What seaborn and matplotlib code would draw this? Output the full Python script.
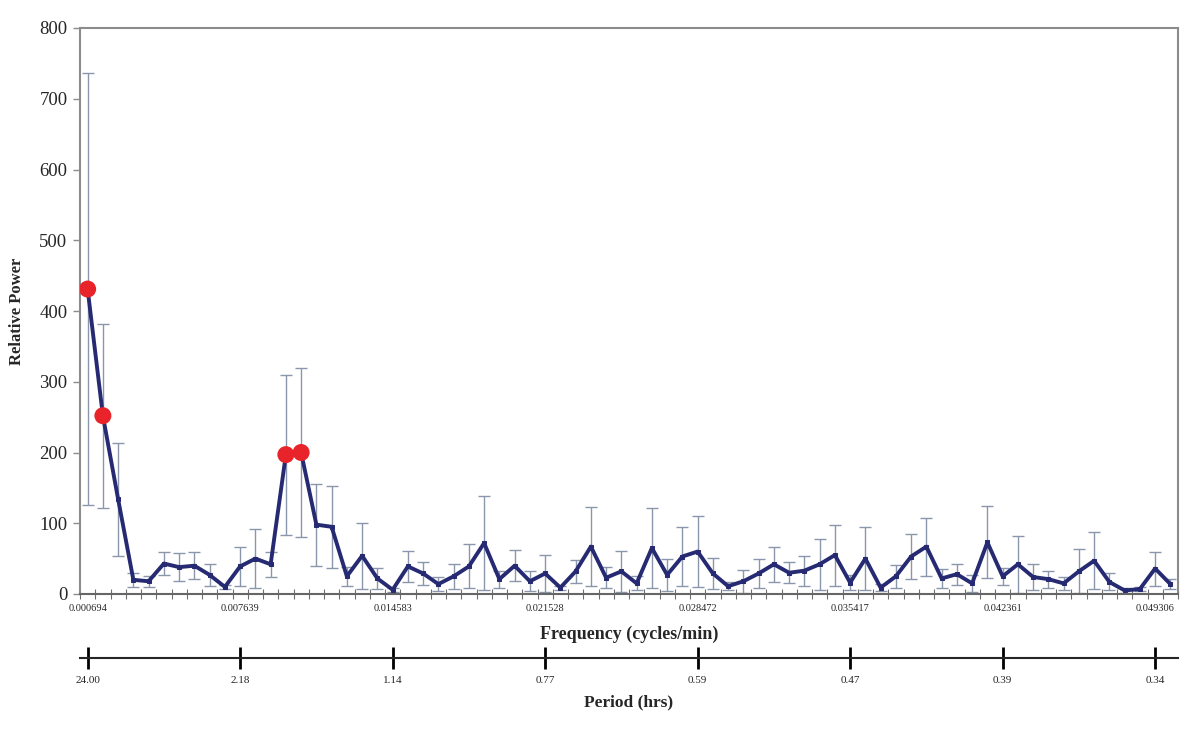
import numpy as np
import matplotlib
matplotlib.use("Agg")
import matplotlib.pyplot as plt
import seaborn as sns

# relative power per frequency bin (72 bins, 1/1440 cycles/min apart)
power = [
    431, 252, 134, 20, 18, 43, 38, 40, 27, 10,
    39, 50, 42, 197, 200, 98, 95, 25, 54, 22,
    6, 39, 29, 14, 25, 39, 72, 21, 40, 18,
    29, 9, 32, 67, 23, 32, 15, 65, 27, 53,
    60, 29, 11, 18, 29, 42, 30, 33, 42, 55,
    16, 50, 9, 25, 53, 67, 22, 28, 15, 73,
    25, 42, 24, 21, 15, 32, 47, 17, 5, 7,
    36, 14,
]
power_err = [
    305, 130, 80, 10, 8, 16, 20, 19, 16, 3,
    27, 42, 18, 113, 119, 58, 58, 13, 47, 15,
    3, 22, 16, 10, 18, 31, 66, 12, 22, 14,
    26, 3, 16, 56, 15, 29, 10, 56, 23, 41,
    50, 22, 6, 16, 20, 25, 15, 21, 36, 43,
    11, 45, 5, 16, 32, 41, 13, 15, 12, 51,
    12, 40, 18, 12, 9, 31, 40, 12, 3, 3,
    24, 7,
]
# significant peaks
peak_idx = [0, 1, 13, 14]

freq_tick_idx = [0, 10, 20, 30, 40, 50, 60, 70]
freq_labels = ["0.000694", "0.007639", "0.014583", "0.021528",
               "0.028472", "0.035417", "0.042361", "0.049306"]
period_labels = ["24.00", "2.18", "1.14", "0.77", "0.59", "0.47", "0.39", "0.34"]

sns.set_style("white")
plt.rcParams["font.family"] = ["Liberation Serif", "DejaVu Serif"]

line_color = "#262A72"
err_color = "#8A96AC"
dot_color = "#E8232A"
frame_color = "#8C8C8C"

x = np.arange(len(power))
fig = plt.figure(figsize=(12, 7.37), dpi=100)
left, width = 80 / 1200, 1098 / 1200
ax = fig.add_axes([left, 1 - 594 / 737, width, 566 / 737])

ax.errorbar(x, power, yerr=power_err, fmt="none", ecolor=err_color,
            elinewidth=1, capsize=4, capthick=1, zorder=1)
sns.lineplot(x=x, y=power, ax=ax, color=line_color, linewidth=2.8,
             marker="s", markersize=3, markeredgecolor=line_color, zorder=2)
sns.scatterplot(x=x[peak_idx], y=[power[i] for i in peak_idx], ax=ax,
                color=dot_color, s=150, edgecolor="none", zorder=3)

ax.set_xlim(-0.5, len(power) - 0.5)
ax.set_ylim(0, 800)
ax.set_yticks(range(0, 801, 100))
ax.tick_params(axis="y", left=True, labelsize=13.5, length=5, width=1,
               color=frame_color, direction="out", pad=4)
ax.set_xticks(freq_tick_idx)
ax.set_xticklabels(freq_labels)
ax.set_xticks(np.arange(-0.5, len(power), 1), minor=True)
ax.tick_params(axis="x", which="major", bottom=True, length=0, labelsize=7.5, pad=7)
ax.tick_params(axis="x", which="minor", bottom=True, length=7, width=0.8,
               color="#6E6E6E", direction="inout")
for side in ["top", "right", "left"]:
    ax.spines[side].set_color(frame_color)
    ax.spines[side].set_linewidth(1.5)
ax.spines["bottom"].set_color("#666666")
ax.spines["bottom"].set_linewidth(1.5)

ax.set_ylabel("Relative Power", fontsize=12, fontweight="bold", labelpad=10)
ax.set_xlabel("Frequency (cycles/min)", fontsize=13, fontweight="bold", labelpad=9)

# period axis drawn underneath
ax2 = fig.add_axes([left, 1 - 658 / 737, width, 0.001])
ax2.set_xlim(-0.5, len(power) - 0.5)
ax2.set_yticks([])
ax2.set_xticks(freq_tick_idx)
ax2.set_xticklabels(period_labels)
ax2.tick_params(axis="x", bottom=True, length=16, width=2, color="black",
                direction="inout", labelsize=8, pad=5)
for side in ["top", "right", "left"]:
    ax2.spines[side].set_visible(False)
ax2.spines["bottom"].set_linewidth(1.5)
ax2.patch.set_visible(False)
ax2.set_xlabel("Period (hrs)", fontsize=12.5, fontweight="bold", labelpad=7)

fig.savefig("out.png", dpi=100)
